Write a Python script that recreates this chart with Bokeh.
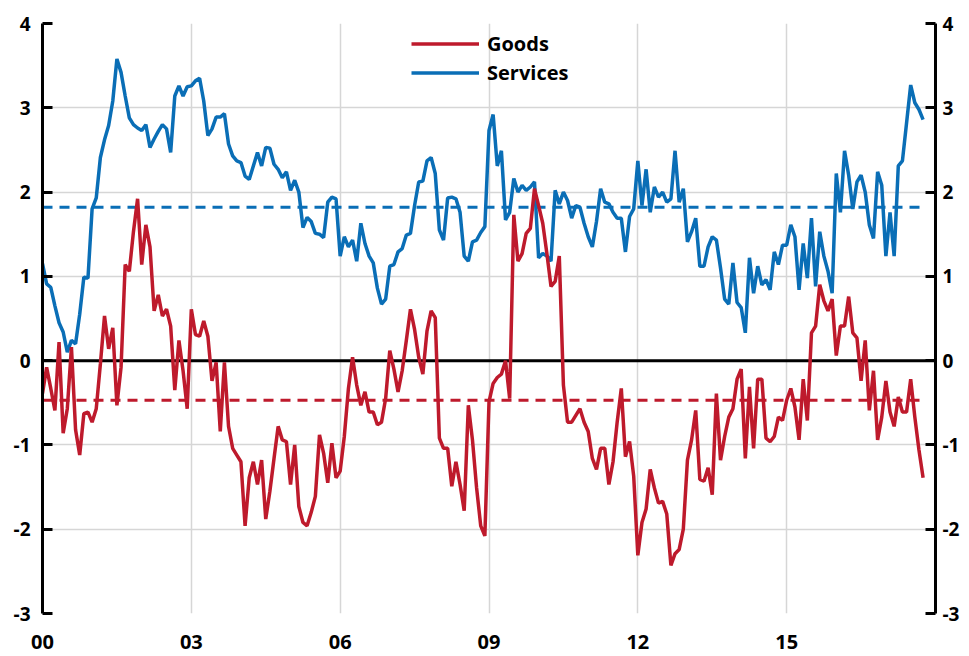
import numpy as np
import pandas as pd
from bokeh.plotting import figure
from bokeh.models import Range1d, LinearAxis, FixedTicker, Span, Legend, LegendItem
from bokeh.embed import file_html
from bokeh.resources import INLINE

# ---- data, monthly from Jan 2000 ----
goods = [
    -0.39, -0.08, -0.33, -0.59, 0.22, -0.86, -0.57, 0.16, -0.82, -1.12,
    -0.63, -0.61, -0.73, -0.57, -0.04, 0.53, 0.14, 0.39, -0.53, -0.08,
    1.14, 1.06, 1.53, 1.92, 1.14, 1.61, 1.35, 0.59, 0.78, 0.53,
    0.61, 0.41, -0.35, 0.24, -0.12, -0.57, 0.61, 0.31, 0.29, 0.47,
    0.29, -0.24, -0.02, -0.84, -0.02, -0.78, -1.04, -1.12, -1.20, -1.96,
    -1.39, -1.20, -1.47, -1.18, -1.88, -1.55, -1.16, -0.78, -0.94, -0.96,
    -1.47, -1.00, -1.73, -1.92, -1.96, -1.80, -1.61, -0.88, -1.10, -1.45,
    -0.98, -1.39, -1.31, -0.90, -0.33, 0.04, -0.29, -0.53, -0.37, -0.61,
    -0.61, -0.76, -0.73, -0.45, 0.12, -0.10, -0.37, -0.12, 0.24, 0.61,
    0.37, 0.04, -0.16, 0.35, 0.59, 0.51, -0.92, -1.04, -1.04, -1.49,
    -1.20, -1.47, -1.78, -0.53, -0.94, -1.51, -1.96, -2.08, -0.49, -0.27,
    -0.20, -0.16, 0.00, -0.45, 1.73, 1.18, 1.27, 1.51, 1.57, 2.04,
    1.84, 1.63, 1.27, 0.88, 0.94, 1.24, -0.29, -0.73, -0.73, -0.65,
    -0.57, -0.73, -0.84, -1.16, -1.29, -1.04, -1.04, -1.47, -1.20, -0.73,
    -0.33, -1.14, -0.96, -1.37, -2.31, -1.92, -1.76, -1.29, -1.51, -1.69,
    -1.67, -1.82, -2.43, -2.29, -2.24, -2.00, -1.18, -0.94, -0.59, -1.41,
    -1.43, -1.27, -1.59, -0.39, -1.18, -0.90, -0.67, -0.57, -0.22, -0.10,
    -1.16, -0.31, -1.04, -0.22, -0.22, -0.92, -0.96, -0.90, -0.67, -0.71,
    -0.47, -0.33, -0.55, -0.94, -0.22, -0.71, 0.33, 0.41, 0.90, 0.71,
    0.59, 0.73, 0.06, 0.41, 0.41, 0.76, 0.33, 0.27, -0.24, 0.24,
    -0.59, -0.12, -0.94, -0.67, -0.24, -0.61, -0.78, -0.43, -0.61, -0.61,
    -0.22, -0.67, -1.06, -1.39,
]
services = [
    1.15, 0.91, 0.87, 0.65, 0.45, 0.34, 0.10, 0.24, 0.20, 0.55,
    0.99, 0.98, 1.80, 1.93, 2.41, 2.62, 2.79, 3.08, 3.58, 3.42,
    3.14, 2.88, 2.80, 2.76, 2.73, 2.80, 2.53, 2.63, 2.72, 2.80,
    2.75, 2.47, 3.14, 3.26, 3.14, 3.25, 3.26, 3.32, 3.35, 3.08,
    2.67, 2.75, 2.89, 2.89, 2.93, 2.57, 2.43, 2.37, 2.35, 2.19,
    2.15, 2.31, 2.47, 2.31, 2.53, 2.52, 2.33, 2.27, 2.17, 2.24,
    2.02, 2.14, 2.00, 1.58, 1.70, 1.65, 1.51, 1.50, 1.46, 1.88,
    1.94, 1.92, 1.24, 1.47, 1.35, 1.43, 1.18, 1.63, 1.39, 1.24,
    1.16, 0.86, 0.67, 0.73, 1.12, 1.14, 1.29, 1.33, 1.49, 1.51,
    1.84, 2.12, 2.13, 2.37, 2.41, 2.22, 1.55, 1.43, 1.93, 1.94,
    1.92, 1.76, 1.24, 1.18, 1.41, 1.43, 1.52, 1.59, 2.73, 2.92,
    2.31, 2.49, 1.67, 1.76, 2.16, 2.00, 2.08, 2.02, 2.06, 2.12,
    1.22, 1.27, 1.24, 1.18, 2.02, 1.86, 2.00, 1.90, 1.69, 1.84,
    1.82, 1.63, 1.47, 1.35, 1.65, 2.04, 1.88, 1.86, 1.76, 1.69,
    1.69, 1.29, 1.71, 1.80, 2.37, 1.84, 2.27, 1.76, 2.06, 1.94,
    2.00, 1.88, 1.92, 2.49, 1.88, 2.04, 1.41, 1.53, 1.69, 1.12,
    1.12, 1.35, 1.47, 1.43, 1.10, 0.73, 0.67, 1.16, 0.69, 0.63,
    0.33, 1.22, 0.80, 1.12, 0.90, 0.96, 0.84, 1.29, 1.14, 1.37,
    1.37, 1.61, 1.47, 0.84, 1.39, 0.98, 1.69, 0.88, 1.53, 1.24,
    1.06, 0.80, 2.22, 1.76, 2.49, 2.20, 1.80, 2.12, 2.20, 2.00,
    1.61, 1.45, 2.24, 2.08, 1.24, 1.76, 1.24, 2.31, 2.37, 2.82,
    3.27, 3.06, 2.98, 2.86,
]
goods_avg = -0.47
services_avg = 1.82
year_ticks = [2000, 2003, 2006, 2009, 2012, 2015]
year_labels = ["00", "03", "06", "09", "12", "15"]
y_ticks = [-3, -2, -1, 0, 1, 2, 3, 4]
y_labels = ["-3", "-2", "-1", "0", "1", "2", "3", "4"]

RED = "#BE1A2C"
BLUE = "#0A6EB6"
FONT = "Open Sans"

dates = pd.date_range("2000-01-01", periods=len(goods), freq="MS")
x = (dates.year + (dates.month - 1) / 12.0).to_numpy(dtype=float)

p = figure(width=963, height=653, output_backend="svg", toolbar_location=None,
           x_range=Range1d(2000, 2018), y_range=Range1d(-3, 4),
           min_border_left=42, min_border_right=28, min_border_top=23,
           min_border_bottom=40)
p.outline_line_color = None
p.background_fill_color = "white"

# grid
p.xgrid.ticker = FixedTicker(ticks=year_ticks)
p.ygrid.ticker = FixedTicker(ticks=y_ticks)
p.grid.grid_line_color = "#d6d6d6"
p.grid.grid_line_width = 1.5

# x axis (labels only)
xa = p.xaxis[0]
xa.ticker = FixedTicker(ticks=year_ticks)
xa.major_label_overrides = {t: l for t, l in zip(year_ticks, year_labels)}
xa.axis_line_color = None
xa.major_tick_line_color = None
xa.minor_tick_line_color = None
xa.major_label_text_font = FONT
xa.major_label_text_font_style = "bold"
xa.major_label_text_font_size = "20px"
xa.major_label_text_color = "black"
xa.major_label_standoff = 15


def style_y(ax, standoff):
    ax.ticker = FixedTicker(ticks=y_ticks)
    ax.major_label_overrides = {t: l for t, l in zip(y_ticks, y_labels)}
    ax.axis_line_color = "black"
    ax.axis_line_width = 3
    ax.major_tick_line_color = "black"
    ax.major_tick_line_width = 3
    ax.major_tick_in = 10
    ax.major_tick_out = 0
    ax.minor_tick_line_color = None
    ax.major_label_text_font = FONT
    ax.major_label_text_font_style = "bold"
    ax.major_label_text_font_size = "19px"
    ax.major_label_text_color = "black"
    ax.major_label_standoff = standoff


style_y(p.yaxis[0], 12)
right = LinearAxis()
style_y(right, 7)
p.add_layout(right, "right")

# zero line
p.add_layout(Span(location=0, dimension="width", line_color="black",
                  line_width=3, level="underlay"))

# average dashed lines
p.line([x[0], x[-1]], [services_avg, services_avg], line_color=BLUE,
       line_width=3, line_dash="10 7")
p.line([x[0], x[-1]], [goods_avg, goods_avg], line_color=RED,
       line_width=3, line_dash="10 7")

r_serv = p.line(x, services, line_color=BLUE, line_width=3.5)
r_goods = p.line(x, goods, line_color=RED, line_width=3.5)

legend = Legend(items=[LegendItem(label="Goods", renderers=[r_goods]),
                       LegendItem(label="Services", renderers=[r_serv])],
                location=(369, 527), orientation="vertical",
                border_line_color=None, background_fill_alpha=0,
                padding=0, margin=0, spacing=2,
                glyph_width=68, glyph_height=27, label_height=27,
                label_standoff=8,
                label_text_font=FONT, label_text_font_style="bold",
                label_text_font_size="20px", label_text_color="black")
p.add_layout(legend)

open("out.html", "w").write(file_html(p, INLINE))
